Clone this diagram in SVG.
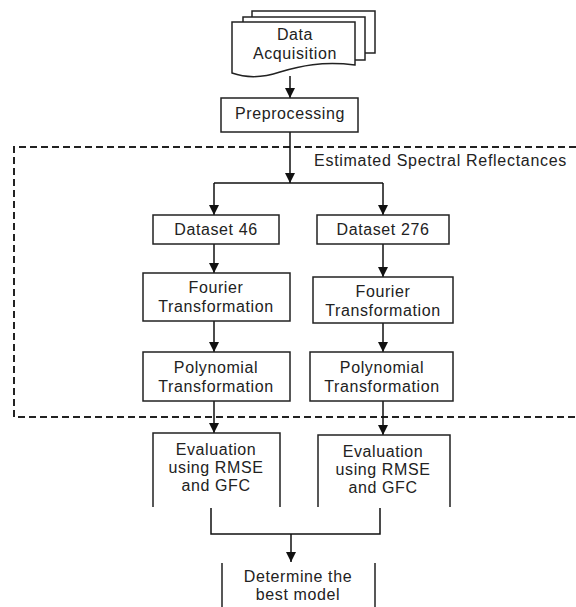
<svg xmlns="http://www.w3.org/2000/svg" width="576" height="607" viewBox="0 0 576 607">
<defs>
<marker id="ah" viewBox="0 0 10 10" refX="10" refY="5" markerWidth="10" markerHeight="10" markerUnits="userSpaceOnUse" orient="auto">
<path d="M0,0 L10,5 L0,10 Z" fill="#111"/>
</marker>
</defs>
<style>
.box{fill:#fff;stroke:#222;stroke-width:1.5}
.open{fill:none;stroke:#222;stroke-width:1.5}
.ln{fill:none;stroke:#111;stroke-width:1.5}
.arr{fill:none;stroke:#111;stroke-width:1.5;marker-end:url(#ah)}
.dash{fill:none;stroke:#222;stroke-width:2;stroke-dasharray:7,4}
text{font-family:"Liberation Sans",Arial,sans-serif;font-size:16px;fill:#222;text-anchor:middle;letter-spacing:0.6px}
</style>
<rect width="576" height="607" fill="#fff"/>

<g id="region">
<path class="dash" d="M576,147 H14 V417 H576"/>
<text x="567" y="166" style="text-anchor:end;letter-spacing:0.7px">Estimated Spectral Reflectances</text>
</g>

<g id="connectors">
<path class="arr" d="M290,76 V98"/>
<path class="arr" d="M290,132 V183"/>
<path class="ln" d="M214,183 H383"/>
<path class="arr" d="M214,183 V215"/>
<path class="arr" d="M383,183 V215"/>
<path class="arr" d="M214,244 V273"/>
<path class="arr" d="M383,244 V277"/>
<path class="arr" d="M214,321 V352"/>
<path class="arr" d="M383,323 V352"/>
<path class="arr" d="M214,401 V433"/>
<path class="arr" d="M383,401 V435"/>
<path class="ln" d="M211,508 V534 H380 V508"/>
<path class="arr" d="M291,534 V562"/>
</g>

<g id="data-acquisition">
<rect class="box" x="252" y="11" width="123" height="42"/>
<rect class="box" x="243" y="17" width="122" height="43"/>
<path class="box" d="M232,22 H355 V65 C322,61 300,66 280,72 C262,78 246,78 232,73 Z"/>
<text x="295" y="40">Data</text>
<text x="295" y="59">Acquisition</text>
</g>

<g id="preprocessing">
<rect class="box" x="221" y="98" width="137" height="34"/>
<text x="290" y="119">Preprocessing</text>
</g>

<g id="dataset46">
<rect class="box" x="153" y="215" width="126" height="29"/>
<text x="216" y="235">Dataset 46</text>
</g>

<g id="dataset276">
<rect class="box" x="317" y="215" width="132" height="29"/>
<text x="383" y="235">Dataset 276</text>
</g>

<g id="fourier46">
<rect class="box" x="143" y="273" width="147" height="48"/>
<text x="216" y="293">Fourier</text>
<text x="216" y="312">Transformation</text>
</g>

<g id="fourier276">
<rect class="box" x="313" y="277" width="140" height="46"/>
<text x="383" y="297">Fourier</text>
<text x="383" y="316">Transformation</text>
</g>

<g id="poly46">
<rect class="box" x="143" y="352" width="147" height="49"/>
<text x="216" y="373">Polynomial</text>
<text x="216" y="392">Transformation</text>
</g>

<g id="poly276">
<rect class="box" x="310" y="352" width="143" height="49"/>
<text x="382" y="373">Polynomial</text>
<text x="382" y="392">Transformation</text>
</g>

<g id="eval46">
<path class="open" d="M153,507 V433 H280 V507"/>
<text x="216" y="455">Evaluation</text>
<text x="216" y="473">using RMSE</text>
<text x="216" y="491">and GFC</text>
</g>

<g id="eval276">
<path class="open" d="M318,507 V435 H450 V507"/>
<text x="383" y="457">Evaluation</text>
<text x="383" y="475">using RMSE</text>
<text x="383" y="493">and GFC</text>
</g>

<g id="best-model">
<path class="open" d="M222,563 V607 M375,563 V607"/>
<text x="298" y="582">Determine the</text>
<text x="298" y="600">best model</text>
</g>
</svg>
